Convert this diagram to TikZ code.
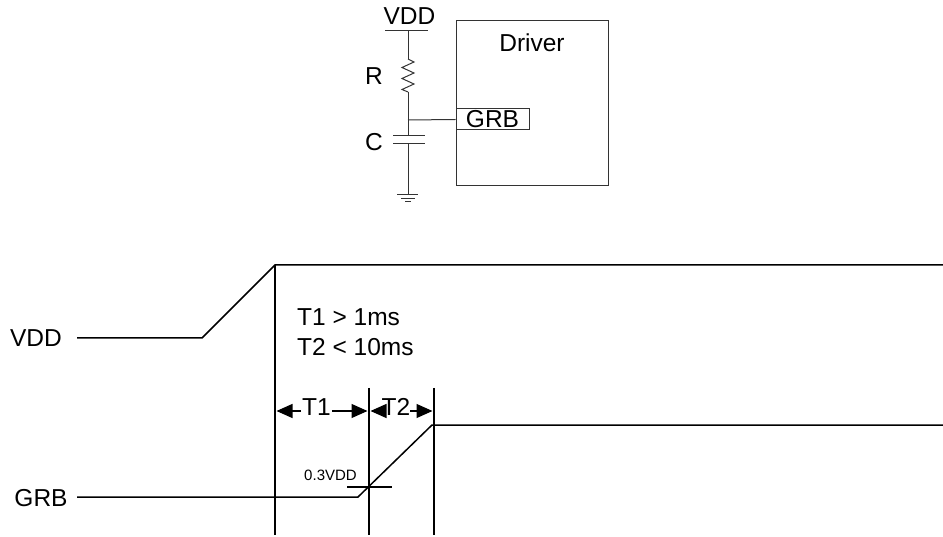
\documentclass[tikz,border=0pt]{standalone}
\usepackage{fontspec}
\setmainfont{Liberation Sans}
\usetikzlibrary{arrows.meta}
\usetikzlibrary{positioning}
\usetikzlibrary{calc}

\begin{document}
\begin{tikzpicture}[x=1pt,y=-1pt]
\tikzstyle{big text}=[inner sep=0,font=\fontsize{24.5}{29}\selectfont]
\tikzstyle{small text}=[inner sep=0,font=\fontsize{15}{18}\selectfont]
\tikzstyle{wire}=[draw=black!80,line width=1pt]
\tikzstyle{signal}=[draw=black,line width=1.5pt]
\tikzset{
  dim arrow/.style = {line width=1.2pt,shorten >=1.5pt,-{Triangle[length=16pt,width=14pt]}},
  pin box/.style = {rectangle,draw=black!80,line width=1pt,minimum width=73pt,minimum height=21pt,inner sep=0},
  chip box/.style = {rectangle,draw=black!80,line width=1pt,minimum width=152pt,minimum height=165pt,inner sep=0}
}
\useasboundingbox (0,0) rectangle (943,537);

    %%%%%%%%%%%%%%%%%%%% circuit
    \node[big text,anchor=base] (vddtop) at (409.5,25) {VDD};
    \node[chip box] (drv) at (532,103.5) {};
    \node[big text,anchor=base] (drvlbl) at (532,52) {Driver};
    \node[pin box,big text] (pin) at (492.5,119.5) {GRB};
    \node[big text,anchor=base east] (rlbl) at (383,85) {R};
    \node[big text,anchor=base east] (clbl) at (383,151) {C};
    \coordinate (barl) at (385,31);
    \coordinate (barr) at (428,31);
    \coordinate (bar) at (408,31);
    \coordinate (rtop) at (408,59);
    \coordinate (rbot) at (408,92);
    \coordinate (junc) at (408,120);
    \coordinate (ctop) at (408,136);
    \coordinate (cbot) at (408,144);
    \coordinate (gnd) at (408,195);

    \draw[wire] (barl) -- (barr);
    \draw[wire] (bar) -- (rtop);
    \draw[wire] (rtop) -- ++(6,3) -- ++(-12,5.5) -- ++(12,5.5) -- ++(-12,5.5)
        -- ++(12,5.5) -- ++(-12,5.5) -- (rbot);
    \draw[wire] (rbot) -- (ctop);
    \draw[wire] (junc) -- (pin.west);
    \draw[wire] ($(ctop)+(-15,0)$) -- ($(ctop)+(17,0)$);
    \draw[wire] ($(cbot)+(-15,0)$) -- ($(cbot)+(17,0)$);
    \draw[wire] (cbot) -- (gnd);
    \draw[wire] ($(gnd)+(-11,0)$) -- ($(gnd)+(10,0)$);
    \draw[wire] ($(gnd)+(-7,3.5)$) -- ($(gnd)+(7,3.5)$);
    \draw[wire] ($(gnd)+(-3,7)$) -- ($(gnd)+(3,7)$);

    %%%%%%%%%%%%%%%%%%%% timing
    \node[big text,anchor=base] (vdd) at (36,347) {VDD};
    \node[big text,anchor=base] (grb) at (41,506) {GRB};
    \node[big text,anchor=base west] (cond1) at (297,326) {T1 > 1ms};
    \node[big text,anchor=base west] (cond2) at (297,356) {T2 < 10ms};
    \node[small text,anchor=base] (thr) at (330.5,480) {0.3VDD};
    \node[big text,anchor=base] (t1) at (316.5,416) {T1};
    \node[big text,anchor=base] (t2) at (396,416) {T2};

    \coordinate (v0) at (77,338);
    \coordinate (v1) at (202,338);
    \coordinate (v2) at (275,265);
    \coordinate (v3) at (943,265);
    \coordinate (g0) at (77,497);
    \coordinate (g1) at (358,497);
    \coordinate (g2) at (432,425);
    \coordinate (g3) at (943,425);
    \coordinate (m1) at (275,535);
    \coordinate (m2t) at (369,388);
    \coordinate (m2) at (369,535);
    \coordinate (m3t) at (434,388);
    \coordinate (m3) at (434,535);
    \coordinate (ay) at (0,411);

    \draw[signal] (v0) -- (v1) -- (v2) -- (v3);
    \draw[signal] (g0) -- (g1) -- (g2) -- (g3);
    \draw[signal] (v2) -- (m1);
    \draw[signal] (m2t) -- (m2);
    \draw[signal] (m3t) -- (m3);
    \draw[line width=1.2pt] (347,487) -- (392,487);

    \draw[dim arrow] ($(t1.west |- ay)+(-1,0)$) -- (m1 |- ay);
    \draw[dim arrow] ($(t1.east |- ay)+(1,0)$) -- (m2 |- ay);
    \draw[dim arrow] (t2.west |- ay) -- (m2 |- ay);
    \draw[dim arrow] (t2.east |- ay) -- (m3 |- ay);
\end{tikzpicture}
\end{document}
